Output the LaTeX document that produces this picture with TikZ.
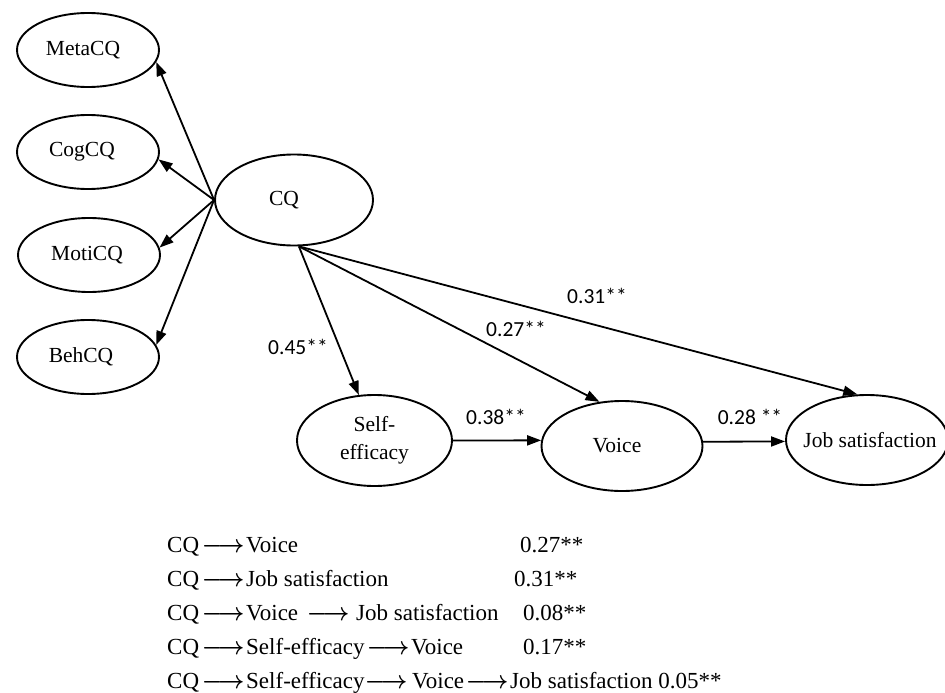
\documentclass[tikz,border=0pt]{standalone}
\usepackage{fontspec}
\usepackage{graphicx}
\setmainfont{Liberation Serif}
\newfontfamily\lblfont{Carlito}
\usetikzlibrary{arrows.meta,shapes.geometric}
\newcommand{\tar}{\makebox[46pt]{\scalebox{0.92}[1]{\boldmath$\longrightarrow$}}}
\newcommand{\lftxt}[2]{\makebox[0pt]{#2\hspace{#1}}}
\begin{document}
\begin{tikzpicture}[x=1pt,y=-1pt,
  ell/.style={ellipse, draw, line width=1.9pt, inner sep=0pt, align=center,
              font=\fontsize{21.5pt}{28pt}\selectfont},
  small/.style={minimum width=142pt, minimum height=74pt},
  arr/.style={-{Triangle[length=14pt,width=10pt]}, line width=1.8pt},
  lbl/.style={font=\lblfont\fontsize{21.5pt}{26pt}\selectfont, inner sep=0pt},
  row/.style={anchor=base west, inner sep=0pt, font=\fontsize{23pt}{28pt}\selectfont},
]
\useasboundingbox (0,0) rectangle (945,693);

% left factor ellipses
\node[ell, small] (meta) at (88,50)  {\lftxt{10pt}{MetaCQ}};
\node[ell, small] (cog)  at (88,152) {\lftxt{12pt}{CogCQ}};
\node[ell, small] (moti) at (89,255) {\lftxt{4pt}{MotiCQ}};
\node[ell, small] (beh)  at (88,357) {\lftxt{14pt}{BehCQ}};

% main constructs
\node[ell, minimum width=158pt, minimum height=91pt] (cq) at (294,200) {\lftxt{20pt}{CQ}};
\node[ell, minimum width=155pt, minimum height=91pt] (se) at (374.5,440.5) {Self-\\efficacy};
\node[ell, minimum width=161pt, minimum height=90pt] (voice) at (622,446) {\lftxt{10pt}{Voice}};
\node[ell, minimum width=162pt, minimum height=90pt] (js) at (867,440) {\makebox[0pt]{\hspace*{6pt}Job satisfaction}};

% connectors
\draw[arr] (cq.west) -- (meta.350);
\draw[arr] (cq.west) -- (cog.354);
\draw[arr] (cq.west) -- (moti.6);
\draw[arr] (cq.west) -- (beh.10);
\draw[arr] (cq.276) -- (se.109);
\draw[arr] (cq.276) -- (voice.117);
\draw[arr] (cq.276) -- (js.102);
\draw[arr] (se.east) -- (voice.176);
\draw[arr] (voice.3) -- (js.181);

% path coefficients
\node[lbl] (l45) at (298,347) {0.45**};
\node[lbl] (l27) at (516,329) {0.27**};
\node[lbl] (l31) at (597,296) {0.31**};
\node[lbl] (l38) at (496,417) {0.38**};
\node[lbl] (l28) at (750,417) {0.28 **};

% effects table
\node[row] (t1) at (167,552) {\makebox[33pt][l]{CQ}\tar Voice};
\node[row] (t2) at (167,586) {\makebox[33pt][l]{CQ}\tar Job satisfaction};
\node[row] (t3) at (167,620) {\makebox[33pt][l]{CQ}\tar\makebox[59pt][l]{Voice}\tar\hspace{5pt}Job satisfaction};
\node[row] (t4) at (167,654) {\makebox[33pt][l]{CQ}\tar\makebox[119pt][l]{Self-efficacy}\tar Voice};
\node[row] (t5) at (167,688) {\makebox[33pt][l]{CQ}\tar\makebox[117pt][l]{Self-efficacy}\tar\hspace{3pt}\makebox[52pt][l]{Voice}\tar Job satisfaction 0.05**};
\node[row] (v1) at (520,552) {0.27**};
\node[row] (v2) at (514,586) {0.31**};
\node[row] (v3) at (523,620) {0.08**};
\node[row] (v4) at (523,654) {0.17**};
\end{tikzpicture}
\end{document}
